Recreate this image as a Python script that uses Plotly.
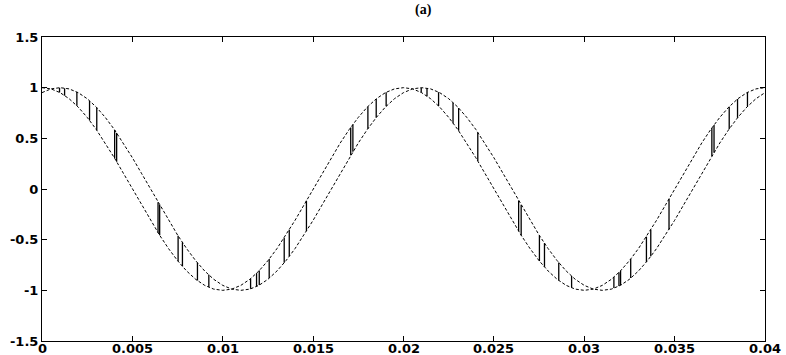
import numpy as np
import plotly.graph_objects as go

# sample times (s) for the two traces
T = np.linspace(0.0, 0.04, 81)

# reference trace
REF = [1.000, 0.988, 0.951, 0.891, 0.809, 0.707, 0.588, 0.454, 0.309, 0.156,
       0.000, -0.156, -0.309, -0.454, -0.588, -0.707, -0.809, -0.891, -0.951, -0.988,
       -1.000, -0.988, -0.951, -0.891, -0.809, -0.707, -0.588, -0.454, -0.309, -0.156,
       0.000, 0.156, 0.309, 0.454, 0.588, 0.707, 0.809, 0.891, 0.951, 0.988,
       1.000, 0.988, 0.951, 0.891, 0.809, 0.707, 0.588, 0.454, 0.309, 0.156,
       0.000, -0.156, -0.309, -0.454, -0.588, -0.707, -0.809, -0.891, -0.951, -0.988,
       -1.000, -0.988, -0.951, -0.891, -0.809, -0.707, -0.588, -0.454, -0.309, -0.156,
       0.000, 0.156, 0.309, 0.454, 0.588, 0.707, 0.809, 0.891, 0.951, 0.988, 1.000]

# delayed trace
DELAYED = [0.951, 0.988, 1.000, 0.988, 0.951, 0.891, 0.809, 0.707, 0.588, 0.454,
           0.309, 0.156, 0.000, -0.156, -0.309, -0.454, -0.588, -0.707, -0.809, -0.891,
           -0.951, -0.988, -1.000, -0.988, -0.951, -0.891, -0.809, -0.707, -0.588, -0.454,
           -0.309, -0.156, 0.000, 0.156, 0.309, 0.454, 0.588, 0.707, 0.809, 0.891,
           0.951, 0.988, 1.000, 0.988, 0.951, 0.891, 0.809, 0.707, 0.588, 0.454,
           0.309, 0.156, 0.000, -0.156, -0.309, -0.454, -0.588, -0.707, -0.809, -0.891,
           -0.951, -0.988, -1.000, -0.988, -0.951, -0.891, -0.809, -0.707, -0.588, -0.454,
           -0.309, -0.156, 0.000, 0.156, 0.309, 0.454, 0.588, 0.707, 0.809, 0.891, 0.951]

# instants of the switching jumps between the traces (s)
SWITCH_T = [0.00097, 0.00125, 0.00193, 0.00263, 0.00303, 0.00402, 0.00413,
            0.00642, 0.00651, 0.00753, 0.00777, 0.00860, 0.00923,
            0.01154, 0.01187, 0.01202, 0.01257, 0.01340, 0.01368, 0.01463,
            0.01708, 0.01720, 0.01803, 0.01849, 0.01904,
            0.02098, 0.02130, 0.02194, 0.02274, 0.02305, 0.02411,
            0.02637, 0.02651, 0.02752, 0.02780, 0.02859, 0.02930,
            0.03164, 0.03192, 0.03201, 0.03257, 0.03344, 0.03368, 0.03469,
            0.03706, 0.03718, 0.03802, 0.03848, 0.03903]

X_TICKS = [0, 0.005, 0.01, 0.015, 0.02, 0.025, 0.03, 0.035, 0.04]
X_LABELS = ["0", "0.005", "0.01", "0.015", "0.02", "0.025", "0.03", "0.035", "0.04"]
Y_TICKS = [-1.5, -1, -0.5, 0, 0.5, 1, 1.5]
Y_LABELS = ["-1.5", "-1", "-0.5", "0", "0.5", "1", "1.5"]
TITLE = "(a)"

ref_at = np.interp(SWITCH_T, T, REF)
del_at = np.interp(SWITCH_T, T, DELAYED)
vx, vy = [], []
for t, a, b in zip(SWITCH_T, ref_at, del_at):
    vx += [t, t, None]
    vy += [a, b, None]

fig = go.Figure()
fig.add_trace(go.Scatter(x=T, y=REF, mode="lines",
                         line=dict(color="black", width=1, dash="3px,2px"),
                         showlegend=False, hoverinfo="skip"))
fig.add_trace(go.Scatter(x=T, y=DELAYED, mode="lines",
                         line=dict(color="black", width=1, dash="3px,2px"),
                         showlegend=False, hoverinfo="skip"))
fig.add_trace(go.Scatter(x=vx, y=vy, mode="lines",
                         line=dict(color="black", width=1.3),
                         showlegend=False, hoverinfo="skip"))

tickfont = dict(family="DejaVu Sans", size=13, color="black", weight="bold")

annotations = [dict(text=TITLE, xref="paper", yref="paper", x=0.528, y=1.089,
                    xanchor="center", yanchor="middle", showarrow=False,
                    font=dict(family="Liberation Serif", size=14, color="black",
                              weight="bold"))]
for tv, tl in zip(X_TICKS, X_LABELS):
    annotations.append(dict(text=tl, xref="x", yref="paper", x=tv, y=0,
                            xanchor="center", yanchor="top", yshift=2,
                            showarrow=False, font=tickfont))

fig.update_layout(
    width=786, height=355,
    margin=dict(l=42, r=21, t=37, b=14),
    paper_bgcolor="white", plot_bgcolor="white",
    showlegend=False,
    xaxis=dict(range=[0, 0.04], tickvals=X_TICKS, showticklabels=False,
               automargin=False,
               showgrid=False, zeroline=False, showline=True, linecolor="black",
               linewidth=1, mirror="ticks", ticks="inside", ticklen=5,
               tickcolor="black"),
    yaxis=dict(range=[-1.5, 1.5], tickvals=Y_TICKS, ticktext=Y_LABELS,
               automargin=False,
               showgrid=False, zeroline=False, showline=True, linecolor="black",
               linewidth=1, mirror="ticks", ticks="inside", ticklen=5,
               tickcolor="black", tickfont=tickfont),
    annotations=annotations,
)

fig.write_html(
    "out.html",
    config={"displayModeBar": False},
    post_script="document.body.style.margin='0';document.body.style.overflow='hidden';",
)
